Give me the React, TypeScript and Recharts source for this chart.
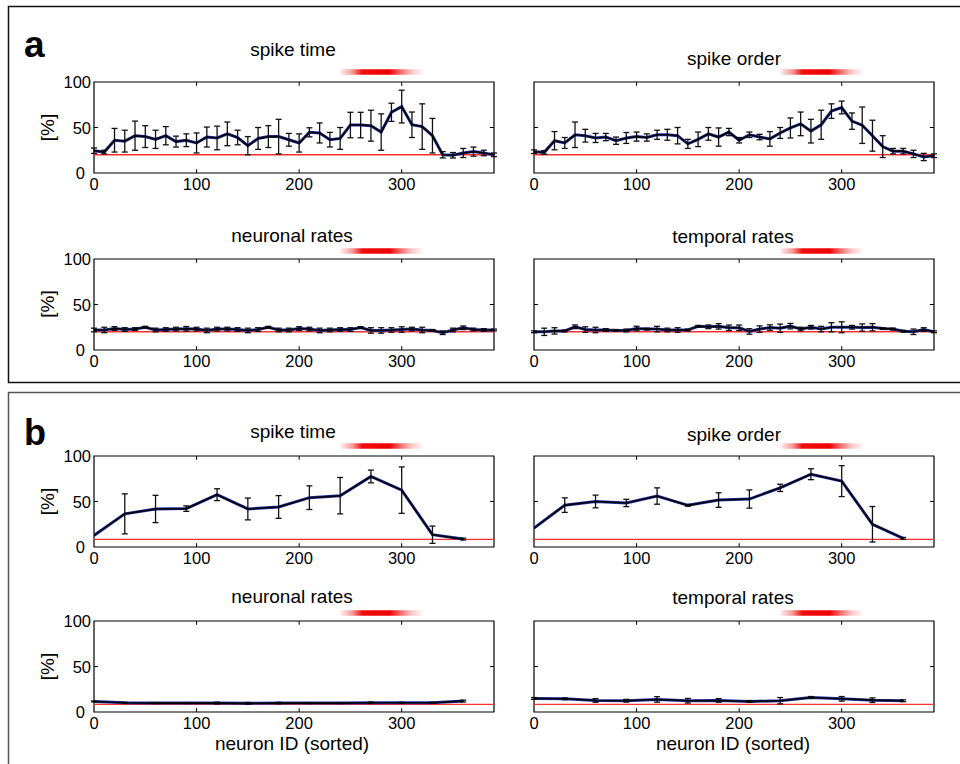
import React from "react";
import {
  LineChart,
  Line,
  XAxis,
  YAxis,
  ErrorBar,
  ReferenceLine,
  ReferenceArea,
} from "recharts";

const FONT = '"Liberation Sans", Arial, Helvetica, sans-serif';

// neuron ids (sorted) where decoding accuracy was measured
const neuronsA = [
  0, 10, 20, 30, 40, 50, 60, 70, 80, 90, 100, 110, 120, 130, 140, 150, 160, 170, 180, 190,
  200, 210, 220, 230, 240, 250, 260, 270, 280, 290, 300, 310, 320, 330, 340, 350, 360, 370, 380, 390,
];
const neuronsB = [0, 30, 60, 90, 120, 150, 180, 210, 240, 270, 300, 330, 360];

// panel a, accuracy [%] and error
const aSpikeTime = [
  24.5, 23, 36, 35, 41, 40, 37, 41, 34.5, 36, 33, 39.5, 38.5, 43, 39, 30, 38, 40, 40, 36.5,
  33, 44.7, 44, 36.6, 38, 52.7, 52.7, 52, 45, 66.7, 73, 53, 51, 41, 20, 19.5, 22, 23.5, 22, 20,
];
const aSpikeTimeErr = [
  3, 2, 13, 12, 16, 12, 10, 10, 6, 7, 11, 11, 13, 13, 8, 10, 12, 12, 19, 7,
  10, 5, 11, 8, 12, 14, 14, 17, 20, 10, 18, 14, 25, 19, 3.5, 3, 5, 5, 3, 2,
];
const aSpikeOrder = [
  23.4, 22.7, 35.5, 33, 42, 41, 38.5, 39.5, 35.5, 38.5, 40, 39, 42, 42, 41, 32, 37, 43, 39.5, 45,
  36, 42, 39.5, 37.5, 44, 49.5, 54, 46, 53, 68, 72, 57, 52.5, 41, 29, 24, 24, 21, 17.6, 19,
];
const aSpikeOrderErr = [
  2, 2, 10, 6, 14, 7, 5, 4, 4, 6, 5, 4, 5, 6, 9, 5, 8, 7, 10, 4,
  3, 3, 3, 8, 6, 11, 13, 13, 16, 8, 7, 9, 20, 17, 12, 3, 3, 4, 4, 2,
];
const aNeuronalRates = [
  22, 22, 23.6, 22.5, 23, 25, 22, 22.5, 23, 23.3, 23, 21.5, 23, 23, 22.5, 21.5, 22.5, 25, 22, 22,
  23.6, 23, 21.5, 22, 22.5, 22.5, 24.7, 21.5, 21.5, 22, 22.5, 23, 22, 21.5, 19, 22, 24.4, 22.5, 22, 22,
];
const aNeuronalRatesErr = [
  2, 3, 2, 2, 1.5, 1, 2, 2, 2, 2.5, 2, 2.5, 2, 2, 2, 2.5, 2, 1, 2, 2,
  2, 2, 2.5, 2, 2, 2, 1, 3, 3, 2.5, 3, 2, 3, 1, 2, 2, 2, 1.5, 1.5, 1,
];
const aTemporalRates = [
  20, 20, 21, 21, 25.5, 22.5, 22, 22, 21.5, 21.5, 23.6, 23, 23, 22, 22, 22, 26, 25.5, 26, 24.4,
  24.4, 20.4, 23, 24.7, 24, 26.2, 23, 25, 23, 25, 25, 25, 24.7, 25, 23.6, 23, 20.7, 20, 22.5, 20,
];
const aTemporalRatesErr = [
  1, 4, 3.5, 1, 2, 3, 3, 1.5, 1, 1.5, 2.5, 1, 3, 2, 2.5, 1, 1, 2, 3, 3,
  3, 3, 3.5, 3, 4.5, 3, 2, 2, 3, 5, 6, 2, 4, 4, 1, 1, 1, 3, 2, 1,
];

// panel b
const bSpikeTime = [12.7, 36.4, 41.8, 42.2, 57.5, 41.8, 44, 54.2, 56.4, 77.5, 62.5, 13.5, 8.7];
const bSpikeTimeErr = [0, 22, 15, 3, 6.5, 12, 12.5, 13, 20, 7, 25.5, 9.5, 1];
const bSpikeOrder = [20.7, 46, 50, 48.4, 56, 45.8, 51.6, 52.7, 65, 80, 72.4, 25, 9.5];
const bSpikeOrderErr = [0, 8, 7, 4, 9, 1, 8, 10, 4, 6, 17, 19.5, 1];
const bNeuronalRates = [11.6, 10.2, 9.8, 9.8, 9.8, 9.5, 9.8, 9.8, 9.8, 10.2, 10.2, 10.2, 12];
const bNeuronalRatesErr = [0.5, 0.5, 0.5, 0.5, 1, 1, 0.8, 0.5, 0.5, 0.8, 0.5, 0.5, 1];
const bTemporalRates = [14.9, 14.5, 12.7, 12.4, 13.8, 12.4, 12.7, 11.6, 12.4, 16, 14.5, 13, 12.4];
const bTemporalRatesErr = [1, 1, 2, 1.5, 3, 2.5, 2, 1, 3.5, 1, 2.5, 2.5, 1];

const chanceA = 20;
const chanceB = 8.33;
const stimWindow = [240, 320];

const xTicks = [0, 100, 200, 300];
const yTicks = [0, 50, 100];

function YTick(props: any) {
  const { x, y, payload } = props;
  const dx = payload.value === 0 ? -6 : 0;
  return (
    <text x={x + dx} y={y + 6} textAnchor="end" fontSize={16.5} fontFamily={FONT} fill="#000">
      {payload.value}
    </text>
  );
}

type PanelProps = {
  id: string;
  left: number;
  top: number;
  xs: number[];
  ys: number[];
  errs: number[];
  chance: number;
  yLabels: boolean;
  bar: [number, number];
};

const W = 400;
const H = 91;
const ML = 50;
const MT = 20;
const MB = 30;
const MR = 10;

function Panel({ id, left, top, xs, ys, errs, chance, yLabels, bar }: PanelProps) {
  const data = xs.map((x, i) => ({ x, y: ys[i], e: errs[i] }));
  return (
    <div style={{ position: "absolute", left: left - ML, top: top - MT }}>
      <LineChart
        width={W + ML + MR}
        height={H + MT + MB}
        data={data}
        margin={{ top: MT, right: MR, bottom: 0, left: ML - 40 }}
      >
        <defs>
          <linearGradient id={id} x1="0" x2="1" y1="0" y2="0">
            <stop offset="0" stopColor="#ee0000" stopOpacity={0.05} />
            <stop offset="0.15" stopColor="#ee0000" stopOpacity={0.4} />
            <stop offset="0.27" stopColor="#ee0000" stopOpacity={0.95} />
            <stop offset="0.6" stopColor="#ee0000" stopOpacity={1} />
            <stop offset="0.73" stopColor="#ee0000" stopOpacity={0.6} />
            <stop offset="0.87" stopColor="#ee0000" stopOpacity={0.22} />
            <stop offset="1" stopColor="#ee0000" stopOpacity={0.04} />
          </linearGradient>
        </defs>
        <XAxis
          dataKey="x"
          type="number"
          domain={[0, 390]}
          ticks={xTicks}
          interval={0}
          height={MB}
          tickSize={0}
          tickMargin={5}
          axisLine={false}
          allowDataOverflow
          tick={{ fill: "#000", fontSize: 16.5, fontFamily: FONT }}
        />
        <YAxis
          type="number"
          domain={[0, 100]}
          ticks={yTicks}
          interval={0}
          width={40}
          tickSize={0}
          tickMargin={3}
          axisLine={false}
          allowDataOverflow
          tick={yLabels ? <YTick /> : false}
        />
        <ReferenceArea
          x1={stimWindow[0]}
          x2={stimWindow[1]}
          y1={bar[0]}
          y2={bar[1]}
          fill={`url(#${id})`}
          fillOpacity={1}
          stroke="none"
          ifOverflow="visible"
        />
        <ReferenceArea x1={0} x2={390} y1={0} y2={100} fill="none" stroke="#000" strokeWidth={1.2} ifOverflow="visible" />
        {[100, 200, 300].map((t) => (
          <ReferenceLine key={`b${t}`} segment={[{ x: t, y: 0 }, { x: t, y: 4.2 }]} stroke="#000" />
        ))}
        {[100, 200, 300].map((t) => (
          <ReferenceLine key={`t${t}`} segment={[{ x: t, y: 95.8 }, { x: t, y: 100 }]} stroke="#000" />
        ))}
        <ReferenceLine segment={[{ x: 0, y: 50 }, { x: 4, y: 50 }]} stroke="#000" />
        <ReferenceLine segment={[{ x: 386, y: 50 }, { x: 390, y: 50 }]} stroke="#000" />
        <ReferenceLine y={chance} stroke="#ff3030" strokeWidth={1.4} />
        <Line dataKey="y" stroke="#2233aa" strokeWidth={3} dot={false} isAnimationActive={false} />
        <Line dataKey="y" stroke="#000" strokeWidth={1.6} dot={false} isAnimationActive={false}>
          <ErrorBar dataKey="e" width={3} stroke="#111" strokeWidth={1.3} direction="y" />
        </Line>
      </LineChart>
    </div>
  );
}

const txt = { fontFamily: FONT, fill: "#000" };

export default function App() {
  const barHi: [number, number] = [108, 114];
  const barLo: [number, number] = [105.8, 111.8];
  return (
    <div style={{ position: "absolute", left: 0, top: 0, width: 960, height: 764, background: "#fff", overflow: "hidden" }}>
      <Panel id="g1" left={94} top={82} xs={neuronsA} ys={aSpikeTime} errs={aSpikeTimeErr} chance={chanceA} yLabels bar={barHi} />
      <Panel id="g2" left={534} top={82} xs={neuronsA} ys={aSpikeOrder} errs={aSpikeOrderErr} chance={chanceA} yLabels={false} bar={barHi} />
      <Panel id="g3" left={94} top={258.5} xs={neuronsA} ys={aNeuronalRates} errs={aNeuronalRatesErr} chance={chanceA} yLabels bar={barLo} />
      <Panel id="g4" left={534} top={258.5} xs={neuronsA} ys={aTemporalRates} errs={aTemporalRatesErr} chance={chanceA} yLabels={false} bar={barLo} />
      <Panel id="g5" left={94} top={456} xs={neuronsB} ys={bSpikeTime} errs={bSpikeTimeErr} chance={chanceB} yLabels bar={barHi} />
      <Panel id="g6" left={534} top={456} xs={neuronsB} ys={bSpikeOrder} errs={bSpikeOrderErr} chance={chanceB} yLabels={false} bar={barHi} />
      <Panel id="g7" left={94} top={621} xs={neuronsB} ys={bNeuronalRates} errs={bNeuronalRatesErr} chance={chanceB} yLabels bar={barLo} />
      <Panel id="g8" left={534} top={621} xs={neuronsB} ys={bTemporalRates} errs={bTemporalRatesErr} chance={chanceB} yLabels={false} bar={barLo} />
      <svg width={960} height={764} style={{ position: "absolute", left: 0, top: 0, pointerEvents: "none" }}>
        <rect x={8.5} y={6.5} width={960} height={376} fill="none" stroke="#111" strokeWidth={1.5} />
        <rect x={8.5} y={392.5} width={960} height={400} fill="none" stroke="#555" strokeWidth={1.5} />
        <text x={24} y={57} fontSize={37} fontWeight="bold" {...txt}>a</text>
        <text x={24} y={445} fontSize={36} fontWeight="bold" {...txt}>b</text>

        <text x={293} y={56} fontSize={19} textAnchor="middle" {...txt}>spike time</text>
        <text x={734} y={65} fontSize={19} textAnchor="middle" {...txt}>spike order</text>
        <text x={292} y={241.5} fontSize={19} textAnchor="middle" {...txt}>neuronal rates</text>
        <text x={733} y={243} fontSize={19} textAnchor="middle" {...txt}>temporal rates</text>
        <text x={293} y={438} fontSize={19} textAnchor="middle" {...txt}>spike time</text>
        <text x={734} y={440.5} fontSize={19} textAnchor="middle" {...txt}>spike order</text>
        <text x={292} y={603} fontSize={19} textAnchor="middle" {...txt}>neuronal rates</text>
        <text x={733} y={604} fontSize={19} textAnchor="middle" {...txt}>temporal rates</text>

        {[127.5, 304, 501.5, 666.5].map((cy) => (
          <text key={cy} x={54} y={cy} fontSize={19} textAnchor="middle" transform={`rotate(-90 54 ${cy})`} {...txt}>
            [%]
          </text>
        ))}
        <text x={292} y={750} fontSize={19} textAnchor="middle" {...txt}>neuron ID (sorted)</text>
        <text x={733} y={750} fontSize={19} textAnchor="middle" {...txt}>neuron ID (sorted)</text>
      </svg>
    </div>
  );
}
